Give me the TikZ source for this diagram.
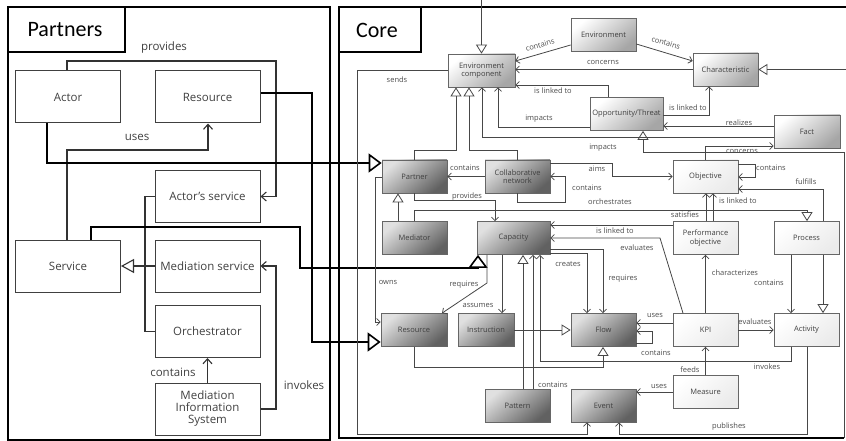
\documentclass[tikz,border=0pt]{standalone}
\usepackage{fontspec}
\setmainfont{Open Sans}
\newfontfamily\titlefont{Carlito}
\usetikzlibrary{arrows.meta}

\begin{document}
\begin{tikzpicture}
[x=1pt,y=-1pt,
  frameDecorate/.style={draw=black,line width=1.1pt},
  partBox/.style={shape=rectangle,draw=black!75,line width=1pt,minimum width=105pt,minimum height=52pt,
    inner sep=1pt,align=center,text=black!75,font=\fontsize{11.5}{12}\selectfont},
  coreBox/.style={shape=rectangle,draw=black!60,line width=0.7pt,minimum height=33pt,
    inner sep=1pt,align=center,text=black!75,font=\fontsize{7.5}{8.5}\selectfont},
  darkBox/.style={coreBox,top color=black!12,bottom color=black!62,shading angle=40},
  lightBox/.style={coreBox,top color=white,bottom color=black!35,shading angle=40},
  whiteBox/.style={coreBox,top color=white,bottom color=black!8,shading angle=40},
  pLine/.style={draw=black!80,line width=1.1pt},
  pArrow/.style={-{Straight Barb[length=5pt,width=9pt]}},
  pGen/.style={-{Triangle[length=13pt,width=14pt,fill=white]}},
  xLine/.style={draw=black,line width=1.6pt,-{Triangle[length=13pt,width=19pt,fill=white]}},
  cLine/.style={draw=black!72,line width=0.8pt},
  cArrow/.style={-{Straight Barb[length=3.5pt,width=7pt]}},
  cGen/.style={-{Triangle[length=9pt,width=11pt,fill=white]}},
  pLbl/.style={inner sep=0pt,text=black!75,font=\fontsize{11.5}{12}\selectfont},
  cLbl/.style={inner sep=0pt,text=black!70,font=\fontsize{7.5}{8}\selectfont}]
\useasboundingbox (0,0) rectangle (846,441);
%% frames
\draw[frameDecorate] (8,7) rectangle (330,440);
\draw[frameDecorate] (8,7) rectangle (125,52);
\node[font=\titlefont\fontsize{22}{22}\selectfont] (partnersTitle) at (65,30) {Partners};
\draw[frameDecorate] (846,7) -- (339,7) -- (339,438) -- (844,438);
\draw[frameDecorate] (339,7) rectangle (421,52);
\node[font=\titlefont\fontsize{22}{22}\selectfont] (coreTitle) at (377,30) {Core};
%% free ends
\coordinate (topIn) at (481.5,0);
\coordinate (rightIn) at (846,69.5);
\coordinate (cornerIn) at (844,438);
%% partners nodes
\foreach \nodename/\x/\y/\txt in {
  actor/68/97/Actor, presource/207.5/97/Resource, actsvc/207.5/196.5/{Actor's service},
  service/68/266/Service, medsvc/207.5/266/{Mediation service}, orch/207.5/331.5/Orchestrator,
  mis/207.5/409/{Mediation\\Information\\System}}
{
  \node (\nodename) at (\x,\y) [partBox] {\txt};
}
%% core nodes
\foreach \nodename/\x/\y/\w/\txt in {
  partner/414.5/176.5/65/Partner, collab/517.5/176.5/65/{Collaborative\\network},
  mediator/414.5/238/65/Mediator, capacity/513.5/238/73/Capacity,
  cresource/414/330/66/Resource, instruction/486/330/56/Instruction,
  flow/603.5/330/65/Flow, pattern/517.5/405.5/65/Pattern, event/603.5/405.5/65/Event}
{
  \node (\nodename) at (\x,\y) [darkBox,minimum width=\w pt] {\txt};
}
\foreach \nodename/\x/\y/\w/\txt in {
  envcomp/481.5/70.5/67/{Environment\\component}, environment/603.5/35/65/Environment,
  charac/725.5/69.5/65/Characteristic, oppthr/626.5/114/73/{Opportunity/Threat},
  fact/807/131.5/66/Fact}
{
  \node (\nodename) at (\x,\y) [lightBox,minimum width=\w pt] {\txt};
}
\foreach \nodename/\x/\y/\w/\txt in {
  objective/705.5/176.5/65/Objective, perfobj/705.5/238/65/{Performance\\objective},
  process/806.5/238/65/Process, kpi/705.5/330/65/KPI,
  activity/806.5/330/65/Activity, measure/705.5/392/65/Measure}
{
  \node (\nodename) at (\x,\y) [whiteBox,minimum width=\w pt] {\txt};
}
%% partners edges
\draw[pLine,pArrow] (actor.north -| 67,0) |- (276,61) |- (actsvc.east);
\draw[pLine,pArrow] (service.north -| 67,0) |- (208,150) -- (presource.south -| 208,0);
\draw[pLine,pGen] (medsvc.west) -- (service.east);
\draw[pLine] (actsvc.west) -| (145,266) |- (orch.west);
\draw[pLine,pArrow] (mis.north) -- (orch.south);
\draw[pLine,pArrow] (mis.east) -| (276,266) -- (medsvc.east);
%% partners into core
\draw[xLine] (actor.south -| 47,0) |- (partner.west |- 0,163);
\draw[xLine] (presource.east |- 0,93) -| (312,342) -- (cresource.west |- 0,342);
\draw[xLine] (service.north -| 91,0) |- (300,227) |- (478,268) -- (capacity.south -| 478,0);
%% core edges
\draw[cLine,cGen] (topIn) -- (envcomp.north);
\draw[cLine,cGen] (rightIn) -- (charac.east);
\draw[cLine,cGen] (cornerIn) |- (643,152) -- (oppthr.south -| 643,0);
\draw[cLine,cArrow] (environment.west |- 0,45) -- (envcomp.east |- 0,61);
\draw[cLine,cArrow] (environment.east |- 0,44) -- (charac.west |- 0,61);
\draw[cLine,cArrow] (charac.west) -- (envcomp.east |- charac.west);
\draw[cLine,cArrow] (oppthr.north -| 608,0) |- (envcomp.east |- 0,85);
\draw[cLine,cArrow] (oppthr.east |- 0,115) -| (charac.south -| 709,0);
\draw[cLine,cArrow] (oppthr.west |- 0,127) -| (envcomp.south -| 498,0);
\draw[cLine,cArrow] (fact.west |- 0,137) -| (envcomp.south -| 482,0);
\draw[cLine,cArrow] (fact.west |- 0,126) -- (oppthr.east |- 0,126);
\draw[cLine,cArrow] (objective.north) |- (fact.west |- 0,146);
\draw[cLine,cArrow] (objective.east |- 0,164) -| (755,177) -- (objective.east |- 0,177);
\draw[cLine,cArrow] (process.north -| 823,0) |- (objective.east |- 0,189);
\draw[cLine,cArrow] (perfobj.north -| 706,0) -- (objective.south -| 706,0);
\draw[cLine,cArrow] (perfobj.north -| 713,0) -- (objective.south -| 713,0);
\draw[cLine,cArrow] (perfobj.west |- 0,225) -- (capacity.east |- 0,225);
\draw[cLine,cArrow] (kpi.north -| 683,0) -- (660,238) -- (capacity.east |- 0,238);
\draw[cLine,cArrow] (capacity.east |- 0,249) -| (flow.north -| 603,0);
\draw[cLine,cArrow] (capacity.east |- 0,253) -| (flow.north -| 587,0);
\draw[cLine,cArrow] (kpi.west |- 0,323) -- (flow.east |- 0,323);
\draw[cLine,cArrow] (flow.east |- 0,343) -| (652,331) -- (flow.east |- 0,331);
\draw[cLine,cArrow] (kpi.east) -- (activity.west);
\draw[cLine,cArrow] (measure.north) -- (kpi.south);
\draw[cLine,cArrow] (measure.west) -- (event.east |- measure.west);
\draw[cLine,cArrow] (kpi.north) -- (perfobj.south);
\draw[cLine,cArrow] (process.south -| 791,0) -- (activity.north -| 791,0);
\draw[cLine,cGen] (process.south -| 823,0) -- (activity.north -| 823,0);
\draw[cLine,cGen] (mediator.north) |- (807,210) -- (process.north -| 807,0);
\draw[cLine,cArrow] (partner.south) |- (495,200) -- (capacity.north -| 495,0);
\draw[cLine,cArrow] (collab.west) -- (partner.east);
\draw[cLine,cArrow] (collab.south) |- (565,202) |- (collab.east);
\draw[cLine,cArrow] (collab.east |- 0,163) -| (612,176.5) -- (objective.west);
\draw[cLine,cGen] (partner.north) |- (456,150) -- (envcomp.south -| 456,0);
\draw[cLine,cGen] (collab.north) |- (469,150) -- (envcomp.south -| 469,0);
\draw[cLine,cGen] (mediator.north -| 398,0) -- (partner.south -| 398,0);
\draw[cLine,cArrow] (partner.west |- 0,177) -| (375,322) -- (cresource.west |- 0,322);
\draw[cLine,cArrow] (capacity.south -| 487,0) -- (487,283) -- (cresource.north -| 442,0);
\draw[cLine,cArrow] (capacity.south -| 502,0) -- (instruction.north -| 502,0);
\draw[cLine,cGen] (instruction.east) -- (flow.west);
\draw[cLine,cGen] (cresource.south) |- (603,367) -- (flow.south -| 603,0);
\draw[cLine,cArrow] (activity.south -| 791,0) |- (540,361) -- (capacity.south -| 540,0);
\draw[cLine,cGen] (pattern.north -| 523,0) -- (capacity.south -| 523,0);
\draw[cLine,cArrow] (pattern.north -| 533,0) -- (capacity.south -| 533,0);
\draw[cLine,cArrow] (envcomp.west) -| (357,434) -| (event.south -| 587,0);
\draw[cLine,cArrow] (activity.south -| 807,0) |- (619,434) -- (event.south -| 619,0);
%% labels
\foreach \x/\y/\txt [count=\i] in {
  164/48/provides, 137/137/uses, 173/372/contains, 304/385/invokes}
{
  \node[pLbl] (plbl\i) at (\x,\y) {\txt};
}
\foreach \x/\y/\txt [count=\i] in {
  603/62/concerns, 553/91/{is linked to}, 397/80/sends, 688/108/{is linked to},
  539/119/impacts, 739/123/realizes, 603/148/impacts, 742/151/concerns,
  465/168/contains, 597/169/aims, 771/168/contains, 806/182/fulfills,
  587/188/contains, 467/197/provides, 738/201/{is linked to}, 610/202/orchestrates,
  685/215/satisfies, 615/231/{is linked to}, 637/248/evaluates, 568/264/creates,
  623/279/requires, 388/282/owns, 735/273/characterizes, 769/283/contains,
  464/285/requires, 478/305/assumes, 655/315/uses, 755/322/evaluates,
  656/353/contains, 767/367/invokes, 690/370/feeds, 659/386/uses,
  553/385/contains, 729/427/publishes}
{
  \node[cLbl] (clbl\i) at (\x,\y) {\txt};
}
\node[cLbl,rotate=17] (envlbl) at (540,45) {contains};
\node[cLbl,rotate=-17] (charlbl) at (666,43) {contains};
\end{tikzpicture}
\end{document}
